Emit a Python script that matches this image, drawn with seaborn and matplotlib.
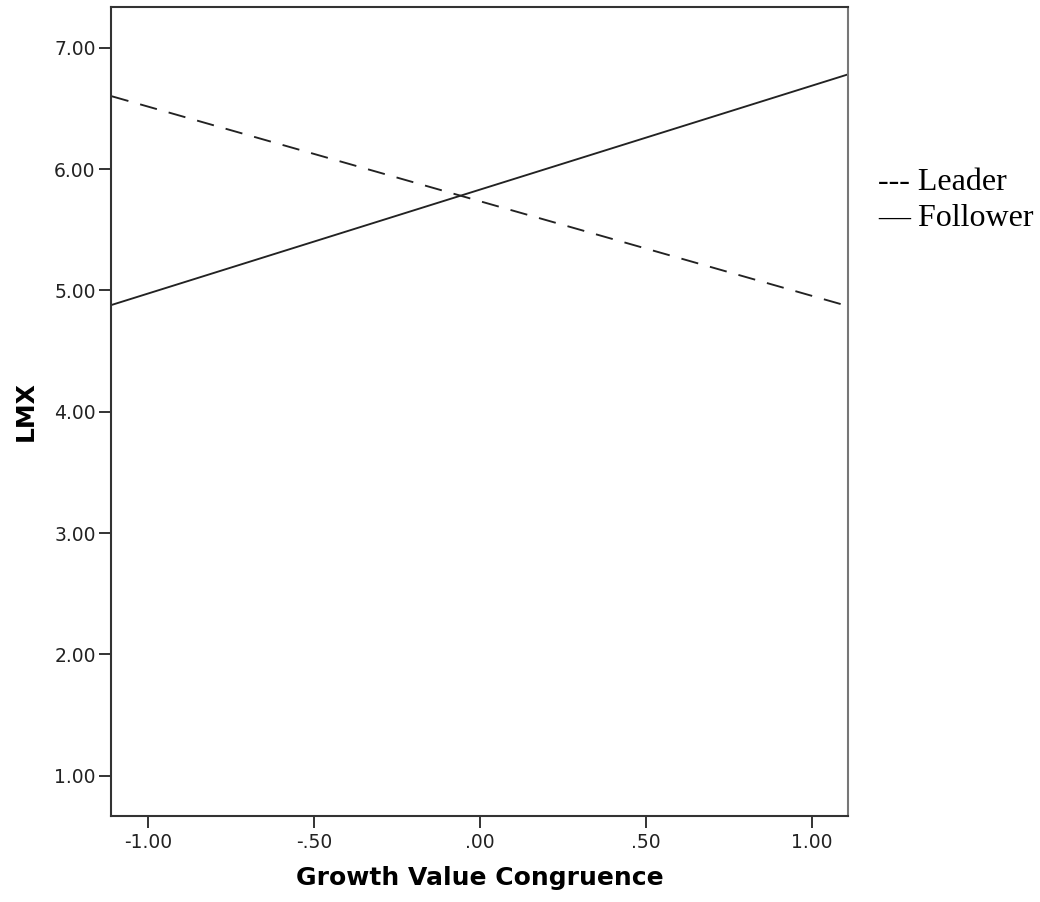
import numpy as np
import matplotlib
matplotlib.use("Agg")
import matplotlib.pyplot as plt
import pandas as pd
import seaborn as sns

# end points of the two simple slopes (x at the axis edges)
x_vals = [-1.11, 1.11]
leader = [6.60, 4.87]
follower = [4.88, 6.78]
groups = ["Leader", "Follower"]

x_ticks = [-1.0, -0.5, 0.0, 0.5, 1.0]
x_labels = ["-1.00", "-.50", ".00", ".50", "1.00"]
y_ticks = [1, 2, 3, 4, 5, 6, 7]
y_labels = ["1.00", "2.00", "3.00", "4.00", "5.00", "6.00", "7.00"]

df = pd.DataFrame({
    "Growth Value Congruence": x_vals * 2,
    "LMX": leader + follower,
    "group": [groups[0]] * 2 + [groups[1]] * 2,
})

sns.set_style("white")
plt.rcParams["font.family"] = ["DejaVu Sans"]

fig = plt.figure(figsize=(10.4, 9.02), dpi=100)
ax = fig.add_axes([0.1067, 0.0953, 0.7087, 0.8969])

sns.lineplot(data=df, x="Growth Value Congruence", y="LMX", style="group",
             dashes={"Leader": (9.3, 6.5), "Follower": ""},
             color="#222222", linewidth=1.35, legend=False, ax=ax)

ax.set_xlim(-1.112, 1.11)
ax.set_ylim(0.668, 7.335)
ax.set_xticks(x_ticks)
ax.set_xticklabels(x_labels)
ax.set_yticks(y_ticks)
ax.set_yticklabels(y_labels)
ax.tick_params(axis="both", direction="out", length=8.5, width=1.4,
               color="#333333", labelsize=13.5, labelcolor="#222222",
               left=True, bottom=True)
ax.tick_params(axis="y", pad=2.5)
ax.tick_params(axis="x", pad=4)

for s in ax.spines.values():
    s.set_visible(True)
    s.set_color("#333333")
    s.set_linewidth(1.5)
ax.spines["right"].set_color("#777777")

ax.set_xlabel("Growth Value Congruence", fontsize=18, fontweight="bold",
              color="black", labelpad=10)
ax.set_ylabel("LMX", fontsize=18, fontweight="bold", color="black",
              labelpad=12)

# legend written as plain text beside the plot
fig.text(0.844, 1 - 183 / 902, "--- Leader", fontsize=23, color="black",
         family="Liberation Serif", va="center", ha="left")
fig.text(0.844, 1 - 218 / 902, "\u2014 Follower", fontsize=23, color="black",
         family="Liberation Serif", va="center", ha="left")

fig.savefig("out.png", dpi=100)
